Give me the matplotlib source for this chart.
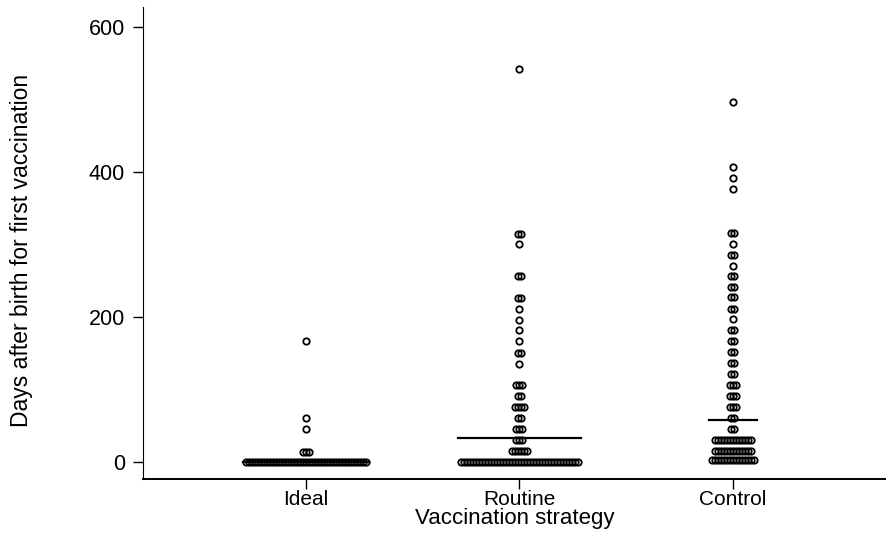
import numpy as np
import matplotlib
matplotlib.use('Agg')
import matplotlib.pyplot as plt

plt.rcParams['font.family'] = ['Liberation Sans', 'DejaVu Sans']

# dias ata a primeira vacina (centro de cada clase) e numero de puntos por clase
grupos = ['Ideal', 'Routine', 'Control']

ideal_dias = [0, 14, 46, 61, 167]
ideal_n = [41, 3, 1, 1, 1]

routine_dias = [0, 15, 31, 46, 61, 76, 91, 107, 136, 151, 167, 182, 196, 211, 226, 256, 301, 315, 541]
routine_n = [40, 6, 3, 3, 2, 4, 2, 3, 1, 2, 1, 1, 1, 1, 2, 2, 1, 2, 1]

control_dias = [3, 15, 31, 46, 61, 76, 92, 107, 122, 137, 152, 167, 182, 197, 211, 227, 242, 256,
                271, 286, 301, 316, 376, 391, 407, 496]
control_n = [15, 13, 13, 2, 2, 3, 3, 3, 2, 2, 2, 2, 2, 1, 2, 2, 2, 2, 1, 2, 1, 2, 1, 1, 1, 1]

medias = [1, 34, 58]

datos = [(ideal_dias, ideal_n), (routine_dias, routine_n), (control_dias, control_n)]

sep = 0.0141  # separacion horizontal entre puntos

fig = plt.figure(figsize=(8.86, 5.36), dpi=100)
ax = fig.add_axes([0.1614, 0.1063, 0.8386, 0.8807])

for i, (dias, n) in enumerate(datos):
    pos = i + 1
    for d, k in zip(dias, n):
        xs = pos + (np.arange(k) - (k - 1) / 2) * sep
        ax.plot(xs, [d] * k, 'o', ms=4.6, mfc='none', mec='black', mew=1.3)
    ancho = (max(n) - 1) / 2 * sep + 0.012
    ax.plot([pos - ancho, pos + ancho], [medias[i], medias[i]], color='black', lw=1.6)

ax.set_xlim(0.237, 3.717)
ax.set_ylim(-23, 627)
ax.set_xticks([1, 2, 3])
ax.set_xticklabels(grupos)
ax.set_yticks([0, 200, 400, 600])
ax.tick_params(labelsize=15.5, length=7, width=1)
ax.tick_params(axis='x', labelsize=15, pad=1)
ax.tick_params(axis='y', pad=6)
ax.set_xlabel('Vaccination strategy', fontsize=16, labelpad=-1)
ax.set_ylabel('Days after birth for first vaccination', fontsize=16.5)
ax.yaxis.set_label_coords(-0.148, 0.485)
for lado in ['top', 'right']:
    ax.spines[lado].set_visible(False)
ax.spines['bottom'].set_linewidth(1.4)

fig.savefig('out.png', dpi=100)
